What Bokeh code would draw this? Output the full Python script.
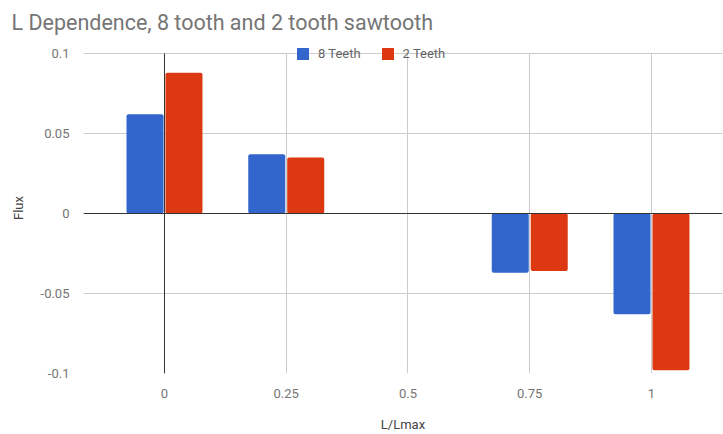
from bokeh.plotting import figure
from bokeh.models import (ColumnDataSource, Span, FixedTicker, CustomJSTickFormatter,
                          Legend, LegendItem, Range1d)
from bokeh.transform import dodge
from bokeh.embed import file_html
from bokeh.resources import INLINE

# L/Lmax positions and the flux measured for each sawtooth
l_frac = [0, 0.25, 0.5, 0.75, 1]
flux_8_teeth = [0.062, 0.037, 0.0, -0.037, -0.063]
flux_2_teeth = [0.088, 0.035, 0.0, -0.036, -0.098]
series_names = ["8 Teeth", "2 Teeth"]
x_ticks = [0, 0.25, 0.5, 0.75, 1]
y_ticks = [-0.1, -0.05, 0, 0.05, 0.1]

BLUE = "#3366cc"
RED = "#dc3912"
FONT = "Roboto"

src = ColumnDataSource(dict(x=l_frac, f8=flux_8_teeth, f2=flux_2_teeth))

# a little headroom above 0.1 so the legend row fits inside the frame
y_top = y_ticks[-1] + 0.006875
p = figure(width=723, height=434, output_backend="svg", toolbar_location=None,
           x_range=Range1d(-0.1663, 1.1458), y_range=Range1d(y_ticks[0], y_top),
           min_border_left=83, min_border_right=1, min_border_top=42,
           min_border_bottom=61)
p.outline_line_color = None
p.background_fill_color = "white"
p.border_fill_color = "white"

p.title.text = "L Dependence, 8 tooth and 2 tooth sawtooth"
p.title.text_font = FONT
p.title.text_font_size = "21.5px"
p.title.text_font_style = "normal"
p.title.text_color = "#757575"
p.title.offset = -72
p.title.standoff = 15

r8 = p.vbar(x=dodge("x", -0.04, range=p.x_range), top="f8", width=0.076, source=src,
            fill_color=BLUE, line_color=None, border_radius=2)
r2 = p.vbar(x=dodge("x", 0.04, range=p.x_range), top="f2", width=0.076, source=src,
            fill_color=RED, line_color=None, border_radius=2)

# zero baseline and the x = 0 axis crossing
p.add_layout(Span(location=0, dimension="width", line_color="#333333", line_width=1))
p.segment(x0=[0], y0=[y_ticks[0]], x1=[0], y1=[y_ticks[-1]],
          line_color="#333333", line_width=1)

fmt = CustomJSTickFormatter(code="return String(Math.round(tick * 100) / 100);")
for ax, ticks in ((p.xaxis[0], x_ticks), (p.yaxis[0], y_ticks)):
    ax.ticker = FixedTicker(ticks=ticks)
    ax.formatter = fmt
    ax.axis_line_color = None
    ax.major_tick_line_color = None
    ax.minor_tick_line_color = None
    ax.major_label_text_font = FONT
    ax.major_label_text_font_size = "13px"
    ax.major_label_text_color = "#757575"
    ax.axis_label_text_font = FONT
    ax.axis_label_text_font_size = "13px"
    ax.axis_label_text_font_style = "normal"
    ax.axis_label_text_color = "#444444"

p.xaxis.axis_label = "L/Lmax"
p.xaxis.major_label_standoff = 9
p.xaxis.axis_label_standoff = 16
p.yaxis.axis_label = "Flux"
p.yaxis.major_label_standoff = 8
p.yaxis.axis_label_standoff = 12

p.xgrid.grid_line_color = "#cccccc"
p.ygrid.grid_line_color = "#cccccc"
p.xgrid.cross_bounds = (y_ticks[0], y_ticks[-1])

legend = Legend(items=[LegendItem(label=series_names[0], renderers=[r8]),
                       LegendItem(label=series_names[1], renderers=[r2])],
                orientation="horizontal", location=(212, 312),
                background_fill_alpha=0, border_line_color=None,
                padding=0, margin=0, spacing=19, label_standoff=8,
                glyph_width=15, glyph_height=15,
                label_text_font=FONT, label_text_font_size="13px",
                label_text_color="#666666", label_height=15)
p.add_layout(legend, "center")

open("out.html", "w").write(file_html(p, INLINE))
